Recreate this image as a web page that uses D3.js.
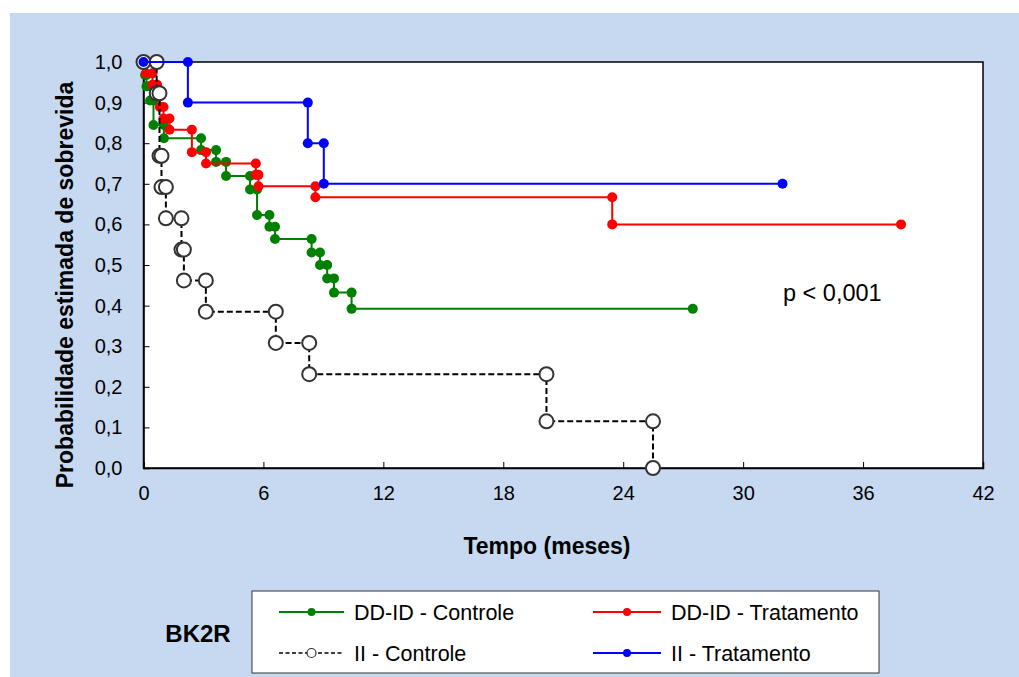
<!DOCTYPE html>
<html>
<head>
<meta charset="utf-8">
<script src="https://cdn.jsdelivr.net/npm/d3@7"></script>
<style>
  body { margin: 0; background: #fff; }
  svg text { font-family: "Liberation Sans", Arial, sans-serif; }
</style>
</head>
<body>
<svg id="chart" width="1019" height="677"></svg>
<script>
// ---- Data (Kaplan-Meier steps: time of event, survival after event) ----
const xTicks = [0, 6, 12, 18, 24, 30, 36, 42];
const yTicks = [0, 0.1, 0.2, 0.3, 0.4, 0.5, 0.6, 0.7, 0.8, 0.9, 1.0];

const greenTimes = [0, 0.08, 0.15, 0.33, 0.5, 1.02, 2.88, 3.63, 4.13, 5.33, 5.68, 6.3, 6.58, 8.41, 8.83, 9.19, 9.53, 10.41, 27.48];
const greenSurv  = [1.0, 0.968, 0.94, 0.905, 0.845, 0.812, 0.783, 0.754, 0.719, 0.686, 0.623, 0.594, 0.564, 0.531, 0.500, 0.467, 0.432, 0.392, 0.392];

const redTimes = [0, 0.12, 0.45, 0.68, 0.82, 1.0, 1.3, 2.42, 3.13, 5.62, 5.75, 8.6, 23.45, 37.9];
const redSurv  = [1.0, 0.972, 0.944, 0.917, 0.889, 0.861, 0.833, 0.778, 0.750, 0.722, 0.694, 0.667, 0.600, 0.600];

const blackTimes = [0, 0.66, 0.8, 0.9, 1.12, 1.9, 2.02, 3.12, 6.62, 8.29, 20.16, 25.49];
const blackSurv  = [1.0, 0.923, 0.769, 0.692, 0.615, 0.538, 0.462, 0.385, 0.308, 0.231, 0.115, 0.0];

const blueTimes = [0, 2.22, 8.22, 9.02, 31.97];
const blueSurv  = [1.0, 0.9, 0.8, 0.7, 0.7];

const seriesNames = ["DD-ID - Controle", "DD-ID - Tratamento", "II - Controle", "II - Tratamento"];
const pText = "p < 0,001";
const groupLabel = "BK2R";
const xTitle = "Tempo (meses)";
const yTitle = "Probabilidade estimada de sobrevida";

// ---- Build ----
const svg = d3.select("#chart");
const W = 1019, H = 677;
const plot = { left: 143.5, right: 983, top: 62, bottom: 468 };

svg.append("rect").attr("x", 10).attr("y", 13).attr("width", W - 10).attr("height", H - 13)
  .attr("fill", "#C6D9F0");

const x = d3.scaleLinear().domain([0, 42]).range([plot.left, plot.right]);
const y = d3.scaleLinear().domain([0, 1]).range([plot.bottom, plot.top]);

svg.append("rect").attr("x", plot.left).attr("y", plot.top)
  .attr("width", plot.right - plot.left).attr("height", plot.bottom - plot.top)
  .attr("fill", "#fff").attr("stroke", "#000").attr("stroke-width", 1.5);

const fmt = d => d3.format(".1f")(d).replace(".", ",");

const yAxis = d3.axisLeft(y).tickValues(yTicks).tickSize(-6).tickPadding(21).tickFormat(fmt);
const gy = svg.append("g").attr("transform", `translate(${plot.left},0)`).call(yAxis);
gy.select(".domain").attr("stroke", "#000").attr("stroke-width", 1.5);
gy.selectAll(".tick line").attr("stroke", "#000");
gy.selectAll(".tick text").attr("font-size", 20).attr("fill", "#000")
  .style("font-family", "Liberation Sans, Arial, sans-serif");

const xAxis = d3.axisBottom(x).tickValues(xTicks).tickSize(-6).tickPadding(32).tickFormat(d3.format("d"));
const gx = svg.append("g").attr("transform", `translate(0,${plot.bottom})`).call(xAxis);
gx.select(".domain").attr("stroke", "#000").attr("stroke-width", 1.5);
gx.selectAll(".tick line").attr("stroke", "#000");
gx.selectAll(".tick text").attr("font-size", 20).attr("fill", "#000").attr("dy", "0")
  .style("font-family", "Liberation Sans, Arial, sans-serif");

svg.append("text").attr("x", 547).attr("y", 554)
  .attr("text-anchor", "middle").attr("font-size", 23).attr("font-weight", "bold").text(xTitle);

svg.append("text").attr("transform", `translate(73,285) rotate(-90)`)
  .attr("text-anchor", "middle").attr("font-size", 23).attr("font-weight", "bold").text(yTitle);

svg.append("text").attr("x", 783).attr("y", 301).attr("font-size", 23.5).text(pText);

function stepVertices(times, surv) {
  const pts = [[times[0], surv[0]]];
  for (let i = 1; i < times.length; i++) {
    pts.push([times[i], surv[i - 1]]);
    if (surv[i] !== surv[i - 1]) pts.push([times[i], surv[i]]);
  }
  return pts;
}

const line = d3.line().x(d => x(d[0])).y(d => y(d[1]));

const series = [
  { t: greenTimes, s: greenSurv, color: "#008000", dash: null, open: false },
  { t: redTimes, s: redSurv, color: "#FF0000", dash: null, open: false },
  { t: blackTimes, s: blackSurv, color: "#000000", dash: "6,3", open: true },
  { t: blueTimes, s: blueSurv, color: "#0000FF", dash: null, open: false }
];

series.forEach(sr => {
  const pts = stepVertices(sr.t, sr.s);
  const g = svg.append("g");
  g.append("path").attr("d", line(pts)).attr("fill", "none")
    .attr("stroke", sr.color).attr("stroke-width", 2)
    .attr("stroke-dasharray", sr.dash);
  g.selectAll("circle").data(pts).join("circle")
    .attr("cx", d => x(d[0])).attr("cy", d => y(d[1]))
    .attr("r", sr.open ? 7 : 5)
    .attr("fill", sr.open ? "#fff" : sr.color)
    .attr("stroke", sr.open ? "#333" : "none")
    .attr("stroke-width", sr.open ? 2 : 0);
});

// ---- Legend ----
svg.append("text").attr("x", 198).attr("y", 642).attr("text-anchor", "middle")
  .attr("font-size", 24).attr("font-weight", "bold").text(groupLabel);

svg.append("rect").attr("x", 252).attr("y", 591).attr("width", 627).attr("height", 82)
  .attr("fill", "#fff").attr("stroke", "#333").attr("stroke-width", 1);

const legendPos = [
  { lx: 279, rx: 344, yy: 612 },
  { lx: 593, rx: 661, yy: 612 },
  { lx: 279, rx: 344, yy: 653 },
  { lx: 593, rx: 661, yy: 653 }
];
series.forEach((sr, i) => {
  const p = legendPos[i];
  svg.append("line").attr("x1", p.lx).attr("x2", p.rx).attr("y1", p.yy).attr("y2", p.yy)
    .attr("stroke", sr.color).attr("stroke-width", sr.open ? 1.5 : 2)
    .attr("stroke-dasharray", sr.open ? "4,2.5" : null);
  svg.append("circle").attr("cx", (p.lx + p.rx) / 2).attr("cy", p.yy)
    .attr("r", sr.open ? 4.5 : 4)
    .attr("fill", sr.open ? "#fff" : sr.color)
    .attr("stroke", sr.open ? "#333" : "none").attr("stroke-width", 1.2);
  svg.append("text").attr("x", p.rx + 10).attr("y", p.yy + 8).attr("font-size", 21.5)
    .text(seriesNames[i]);
});
</script>
</body>
</html>
